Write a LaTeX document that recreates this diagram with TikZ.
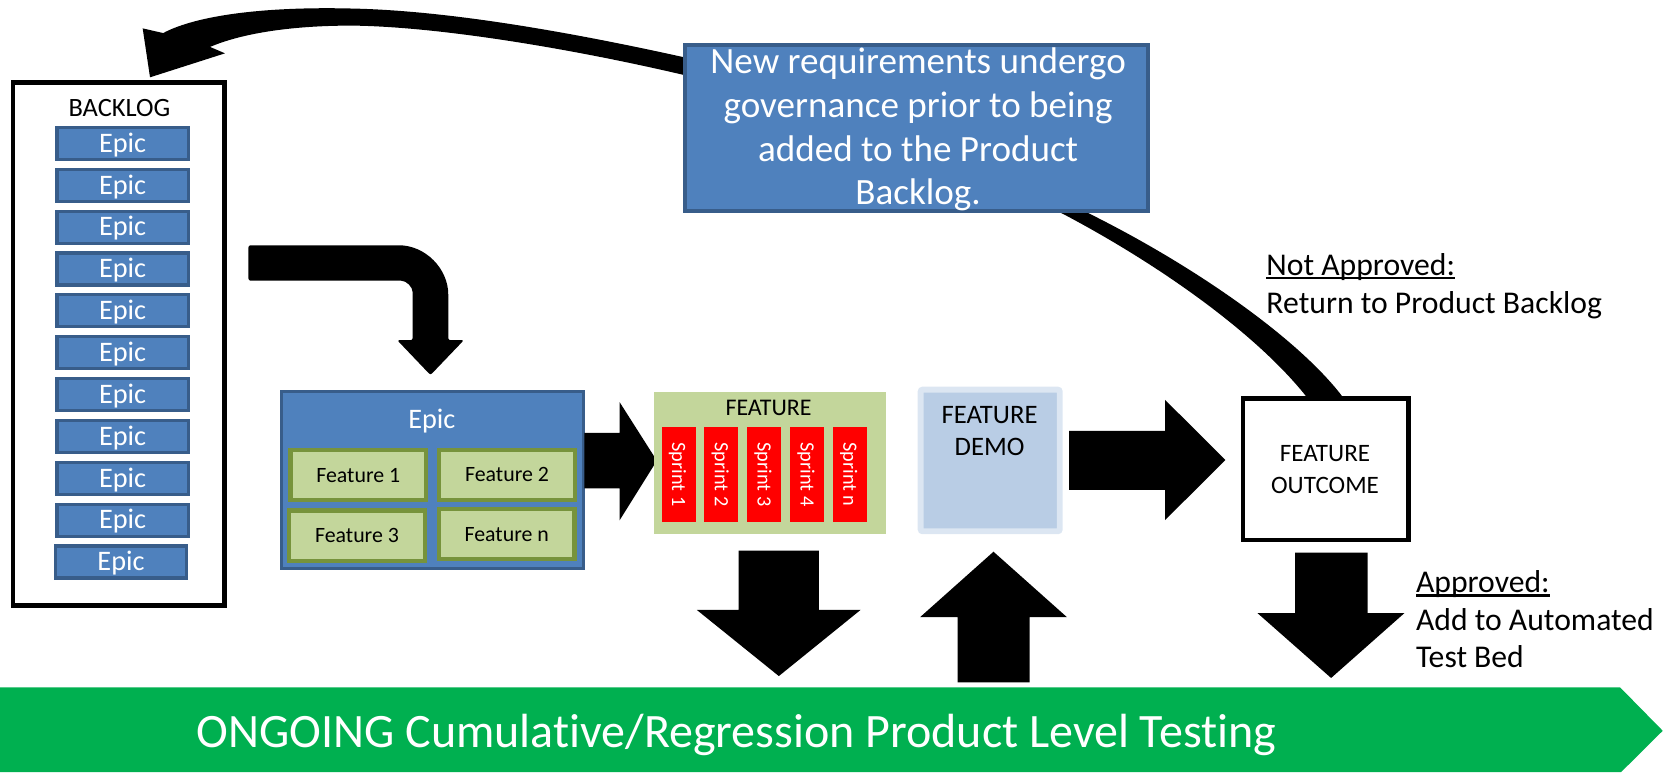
\documentclass[tikz,border=0pt]{standalone}
\usepackage{fontspec}
\setmainfont{Carlito}[Ligatures=NoCommon]
\definecolor{epicblue}{HTML}{4F81BD}
\definecolor{epicline}{HTML}{385D8A}
\definecolor{featgreen}{HTML}{C3D69B}
\definecolor{featline}{HTML}{77933C}
\definecolor{sprintred}{HTML}{FF0000}
\definecolor{demofill}{HTML}{B9CDE5}
\definecolor{demoline}{HTML}{DCE6F2}
\definecolor{bannergreen}{HTML}{00B050}
% underline at a fixed distance below the baseline
\newcommand\ulbox[1]{\setbox0\hbox{#1}\rlap{\rule[-3.6pt]{\wd0}{2pt}}\box0}
\begin{document}
\begin{tikzpicture}[x=1pt,y=-1pt,
  fs/.style={font=\fontsize{#1pt}{#1pt}\selectfont},
  txt/.style={anchor=base, inner sep=0pt},
  epicitem/.style={draw=epicline, fill=epicblue, line width=3pt, minimum width=123pt,
    minimum height=30pt, inner sep=0pt, text=white, fs=26.5, text height=16.6pt, text depth=0pt},
  featitem/.style={draw=featline, fill=featgreen, line width=4pt, minimum width=127pt,
    minimum height=47pt, inner sep=0pt, fs=20.5, text height=12.9pt, text depth=0pt},
  sprintitem/.style={fill=sprintred, minimum width=89pt, minimum height=31.8pt, inner sep=0pt,
    rotate=-90, text=white, fs=19, text height=12pt, text depth=0pt},
  blockarrow/.style={fill=black},
]
\useasboundingbox (0,0) rectangle (1568,724);

% curved return arrow from the governance note to the backlog
\fill (153,31) -- (133.8,26.6) -- (140.7,72.5) -- (211,50) -- (197,44)
  .. controls (225,32) and (270,24) .. (330,24)
  .. controls (420,25) and (560,50) .. (665,76)
  -- (665,59)
  .. controls (560,35) and (430,10) .. (330,8)
  .. controls (250,6) and (185,14) .. (153,31) -- cycle;

% tapered link from the outcome box up to the governance note
\fill (989,184.4) -- (1002.5,191.1)
  .. controls (1103.6,238.8) and (1208.8,309.4) .. (1255.8,367.9)
  -- (1267.8,383.9) -- (1246.2,400.1) -- (1234.2,384.1)
  .. controls (1191.2,322.6) and (1096.4,253.2) .. (997.5,200.9)
  -- (984,194.2) -- cycle;

% backlog column
\node[draw=black, line width=4.5pt, minimum width=198.5pt, minimum height=490.5pt,
  inner sep=0pt, fill=white] (backlog) at (111.5,322.5) {};
\node[txt, fs=24.8] (backlogtitle) at (112,109) {BACKLOG};
\foreach \i in {0,...,9}
  \node[epicitem] (epic\i) at (115,134.5+39.25*\i) {Epic};
\node[epicitem] (epic10) at (113.5,527) {Epic};

% bent arrow into the epic
\fill[blockarrow, rounded corners=2pt] (233,263.2) -- (233,230) -- (372,230)
  .. controls (398.7,230) and (420.4,251.7) .. (420.4,278.4)
  -- (420.4,319) -- (435,319) -- (403.7,351.7) -- (372.5,319) -- (387,319)
  -- (387,276.2) .. controls (387,269) and (381.2,263.2) .. (374,263.2) -- cycle;

% epic broken into features
\node[draw=epicline, fill=epicblue, line width=3pt, minimum width=283pt, minimum height=166pt,
  inner sep=0pt] (epicgroup) at (405.5,450.5) {};
\node[txt, fs=26.5, text=white] (epictitle) at (405,402) {Epic};
\node[featitem] (feat1) at (336,445.7) {Feature 1};
\node[featitem] (feat2) at (475.5,445.2) {Feature 2};
\node[featitem] (feat3) at (334.8,502.3) {Feature 3};
\node[featitem] (featn) at (475.2,501) {Feature n};

% arrow into the feature sprints
\fill[blockarrow] (548,406) -- (581,406) -- (581,377) -- (616,432) -- (581,488)
  -- (581,458) -- (548,458) -- cycle;

% feature with its sprints
\node[fill=featgreen, minimum width=218pt, minimum height=133pt, inner sep=0pt]
  (featgroup) at (722,434.5) {};
\node[txt, fs=22.4] (feattitle) at (720.7,389.2) {FEATURE};
\node[sprintitem] (sprint1) at (636.4,445) {Sprint 1};
\node[sprintitem] (sprint2) at (676.5,445) {Sprint 2};
\node[sprintitem] (sprint3) at (716.6,445) {Sprint 3};
\node[sprintitem] (sprint4) at (756.7,445) {Sprint 4};
\node[sprintitem] (sprintn) at (796.8,445) {Sprint n};

% feature demo
\node[draw=demoline, fill=demofill, line width=5.5pt, rounded corners=2pt,
  minimum width=130.5pt, minimum height=132.9pt, inner sep=0pt] (demo) at (928.6,431.8) {};
\node[txt, fs=25] (demo1) at (928,397.6) {FEATURE};
\node[txt, fs=25] (demo2) at (928,427.6) {DEMO};

% arrows to and from the testing band
\fill[blockarrow] (692.7,516.4) -- (768,516.4) -- (768,572) -- (807,572) -- (730.4,634)
  -- (653.5,572) -- (692.7,572) -- cycle;
\fill[blockarrow] (931.7,517.4) -- (1000.6,578.8) -- (965.5,578.8) -- (965.5,640)
  -- (898,640) -- (898,578.8) -- (862.8,578.8) -- cycle;

% arrow to the outcome
\fill[blockarrow] (1002.5,404) -- (1092.6,404) -- (1092.6,375) -- (1149.2,431.4)
  -- (1092.6,487.7) -- (1092.6,459.5) -- (1002.5,459.5) -- cycle;

% feature outcome
\node[draw=black, fill=white, line width=4.5pt, minimum width=155.4pt, minimum height=132.7pt,
  inner sep=0pt] (outcome) at (1243.35,440) {};
\node[txt, fs=23.5] (outcome1) at (1242.6,433) {FEATURE};
\node[txt, fs=23.5] (outcome2) at (1242.6,462.7) {OUTCOME};

\fill[blockarrow] (1214.5,518.3) -- (1282.5,518.3) -- (1282.5,575) -- (1317,575)
  -- (1248.3,635.8) -- (1179.3,575) -- (1214.5,575) -- cycle;

% decision notes
\node[txt, anchor=base west, fs=29.7] (notappr) at (1187.5,258) {\ulbox{Not Approved:}};
\node[txt, anchor=base west, fs=29.7] (notappr2) at (1187.5,294) {Return to Product Backlog};
\node[txt, anchor=base west, fs=29.7] (appr) at (1327.8,555.8) {\ulbox{Approved:}};
\node[txt, anchor=base west, fs=29.7] (appr2) at (1327.8,591.5) {Add to Automated};
\node[txt, anchor=base west, fs=29.7] (appr3) at (1327.8,626) {Test Bed};

% governance note
\node[draw=epicline, fill=epicblue, line width=3.75pt, minimum width=434.25pt,
  minimum height=155.75pt, inner sep=0pt] (govern) at (859.5,119.75) {};
\node[txt, fs=34.8, text=white] (gov1) at (861,69) {New requirements undergo};
\node[txt, fs=34.8, text=white] (gov2) at (861,110) {governance prior to being};
\node[txt, fs=34.8, text=white] (gov3) at (861,151) {added to the Product};
\node[txt, fs=34.8, text=white] (gov4) at (861,192) {Backlog.};

% ongoing testing band
\fill[bannergreen] (0,644.6) -- (1519.3,644.6) -- (1559.3,685.3) -- (1520.3,724)
  -- (0,724) -- cycle;
\node[txt, fs=45, text=white] (band) at (690.5,700.9)
  {ONGOING Cumulative/Regression Product Level Testing};
\end{tikzpicture}
\end{document}
